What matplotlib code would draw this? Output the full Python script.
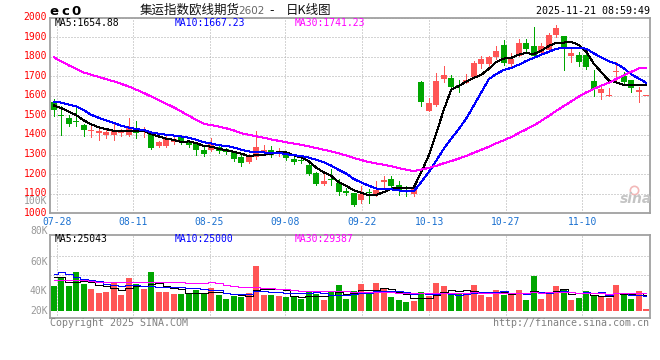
import numpy as np
import matplotlib
matplotlib.use("Agg")
import matplotlib.pyplot as plt
from matplotlib.transforms import ScaledTranslation

# ---------------- data ----------------
tick_dates = ['07-28', '08-11', '08-25', '09-08', '09-22', '10-13', '10-27', '11-10']

opens = [1567, 1503, 1486, 1471, 1452, 1418, 1411, 1399, 1402, 1408,
         1402, 1430, 1416, 1409, 1345, 1346, 1365, 1392, 1367, 1355,
         1325, 1321, 1341, 1330, 1313, 1290, 1264, 1285, 1314, 1324,
         1306, 1308, 1277, 1270, 1247, 1208, 1149, 1176, 1154, 1112,
         1104, 1066, 1107, 1095, 1160, 1176, 1142, 1117, 1100, 1673,
         1525, 1554, 1687, 1690, 1655, 1668, 1698, 1764, 1762, 1796,
         1860, 1764, 1804, 1872, 1852, 1818, 1835, 1911, 1903, 1804,
         1806, 1809, 1676, 1614, 1597, 1720, 1702, 1681, 1622, 1600]
highs = [1583, 1547, 1501, 1554, 1457, 1460, 1435, 1430, 1463, 1430,
         1487, 1472, 1441, 1414, 1371, 1401, 1391, 1402, 1376, 1362,
         1345, 1386, 1349, 1335, 1320, 1298, 1303, 1421, 1348, 1345,
         1333, 1316, 1290, 1283, 1259, 1213, 1200, 1224, 1176, 1131,
         1105, 1137, 1122, 1163, 1188, 1188, 1163, 1137, 1132, 1675,
         1588, 1716, 1750, 1708, 1681, 1711, 1779, 1801, 1801, 1855,
         1886, 1818, 1889, 1889, 1954, 1872, 1921, 1963, 1903, 1838,
         1823, 1844, 1730, 1656, 1642, 1775, 1720, 1681, 1647, 1600]
lows = [1497, 1401, 1447, 1447, 1397, 1392, 1372, 1387, 1375, 1397,
        1396, 1384, 1390, 1328, 1340, 1341, 1356, 1352, 1340, 1300,
        1293, 1316, 1307, 1305, 1268, 1244, 1259, 1279, 1296, 1286,
        1293, 1273, 1251, 1255, 1195, 1145, 1143, 1143, 1095, 1095,
        1039, 1054, 1054, 1088, 1134, 1127, 1095, 1088, 1086, 1549,
        1520, 1549, 1673, 1631, 1617, 1665, 1695, 1742, 1750, 1788,
        1759, 1742, 1801, 1826, 1801, 1809, 1831, 1899, 1730, 1775,
        1750, 1738, 1597, 1585, 1597, 1665, 1656, 1622, 1568, 1600]
closes = [1526, 1499, 1457, 1468, 1423, 1426, 1421, 1413, 1421, 1421,
          1435, 1410, 1421, 1333, 1364, 1377, 1379, 1367, 1350, 1321,
          1303, 1359, 1316, 1313, 1278, 1259, 1294, 1341, 1324, 1298,
          1314, 1282, 1264, 1267, 1200, 1152, 1163, 1170, 1109, 1104,
          1044, 1100, 1104, 1120, 1171, 1137, 1112, 1112, 1124, 1566,
          1563, 1678, 1708, 1647, 1651, 1681, 1770, 1789, 1796, 1830,
          1767, 1789, 1869, 1840, 1801, 1852, 1911, 1948, 1847, 1818,
          1775, 1745, 1634, 1634, 1605, 1728, 1673, 1639, 1631, 1600]
# volume in thousands
volumes = [40.5, 54, 40.5, 63, 44, 35.6, 29, 31, 47, 26,
           53.5, 44, 35.6, 63, 31, 31, 27.5, 28, 27.5, 34,
           27.5, 37, 26, 19.5, 25, 23, 29, 73.4, 26, 26,
           24.3, 22.7, 22.7, 19.5, 32.4, 27.5, 17.8, 32.4, 42, 19.5,
           32.4, 44, 29, 45.4, 37, 22.7, 17.8, 14.6, 16.2, 30.8,
           24.3, 45.4, 40.5, 26, 29, 26, 42, 26, 22.7, 34,
           26, 26, 34, 17.8, 57.2, 19.5, 29, 40.5, 34, 17.8,
           21, 32.4, 26, 22.7, 21, 42, 29, 19.5, 32.4, 3.2]
# history before the visible window (inferred from the moving-average lines)
prior_closes = [2118, 2076, 2012, 1966, 1773, 1768, 1745, 1753, 1813, 1827,
                1907, 1918, 1890, 1922, 1920, 1922, 2015, 1998, 1939, 1922,
                1547, 1557, 1567, 1607, 1667, 1570, 1543, 1559, 1557]
prior_volumes = [64.5, 51, 73.5, 54.5, 76, 69.5, 33, 49, 28, 55.5,
                 46, 37.6, 65, 33, 33, 29.5, 30, 29.5, 36, 29.5,
                 24, 80.5, 113, 71, 45.6, 50, 82, 60, 40]

price_ma_text = ['MA5:1654.88', 'MA10:1667.23', 'MA30:1741.23']
vol_ma_text = ['MA5:25043', 'MA10:25000', 'MA30:29387']
vol_axis_labels = ['100K', '80K', '60K', '40K', '20K']

# ---------------- layout / style ----------------
W, H = 660, 360
MAIN_BOX = (50, 17.5, 650, 213.3)   # left, top, right, bottom in px
VOL_BOX = (50, 234.7, 650, 318.3)
TICK_PX = [56.7, 133.3, 209.5, 285, 361.7, 429.3, 505.5, 582.3]
VOL_LABEL_PX = [201.5, 230.7, 261.7, 290.7, 310.7]
VOL_GRID_PX = [255.7, 275.0]
VOL_BASE_PX = 311.0
K_PER_PX = 1.62
LW = 0.72  # one pixel

UP = '#FF5555'
DOWN = '#00A600'
GRID = '#ABABAB'
FRAME = '#A0A0A0'
MONO = 'DejaVu Sans Mono'
CJK = ['Noto Sans CJK SC', 'DejaVu Sans']

fig = plt.figure(figsize=(W / 100, H / 100), dpi=100)
fig.patch.set_facecolor('white')


def add_ax(box):
    l, t, r, b = box
    return fig.add_axes([l / W, 1 - b / H, (r - l) / W, (b - t) / H])


def ptext(px, py, s, **kw):
    kw.setdefault('va', 'center')
    fig.text(px / W, 1 - py / H, s, **kw)


def sma(series, prior, n):
    full = np.concatenate([np.asarray(prior, float), np.asarray(series, float)])
    k = len(prior)
    return np.array([full[k + i - n + 1:k + i + 1].mean() for i in range(len(series))])


n = len(closes)
x = np.arange(n)
o = np.array(opens, float)
h = np.array(highs, float)
lo = np.array(lows, float)
c = np.array(closes, float)
up = c >= o
colors = [UP if u else DOWN for u in up]

ax = add_ax(MAIN_BOX)
axv = add_ax(VOL_BOX)
tick_pos = [(p - MAIN_BOX[0]) / 7.5 - 0.5 for p in TICK_PX]

for a in (ax, axv):
    a.set_xlim(-0.5, n - 0.5)
    for s in a.spines.values():
        s.set_color(FRAME)
        s.set_linewidth(1.3)
    a.set_xticks(tick_pos)
    a.tick_params(length=0)
    a.grid(True, color=GRID, linestyle=(0, (1, 2)), linewidth=LW)
    a.set_axisbelow(True)

# ---- main price panel ----
ax.set_ylim(1000, 2000)
ax.set_yticks(np.arange(1000, 2001, 100))
ax.set_yticklabels([str(v) for v in range(1000, 2001, 100)], color='#FF0000',
                   fontsize=7, family=MONO)
ax.set_xticklabels(tick_dates, color='#1A70D0', fontsize=7, family=MONO)
ax.tick_params(axis='y', pad=2.2)
ax.tick_params(axis='x', pad=3)
shift_up = ScaledTranslation(0, 1.5 / 100, fig.dpi_scale_trans)
for lab in ax.get_yticklabels():
    lab.set_transform(lab.get_transform() + shift_up)

ax.vlines(x, lo, h, colors=colors, linewidth=LW, antialiased=False, zorder=3)
body_h = np.maximum(np.abs(c - o), 5.0)
ax.bar(x, body_h, bottom=np.minimum(o, c), width=0.76, color=colors,
       linewidth=0, antialiased=False, zorder=3)

for period, col in ((5, 'black'), (10, '#0000FF'), (30, '#FF00FF')):
    ax.plot(x, sma(c, prior_closes, period), color=col, linewidth=LW,
            antialiased=False, zorder=4)

# ---- volume panel ----
v = np.array(volumes, float)
axv.set_ylim(-(VOL_BOX[3] - VOL_BASE_PX) * K_PER_PX, (VOL_BASE_PX - VOL_BOX[1]) * K_PER_PX)
axv.set_yticks([(VOL_BASE_PX - p) * K_PER_PX for p in VOL_GRID_PX])
axv.set_yticklabels([])
axv.set_xticklabels([])
axv.bar(x, v, width=0.76, color=colors, linewidth=0, antialiased=False, zorder=3)
for period, col in ((5, 'black'), (10, '#0000FF'), (30, '#FF00FF')):
    axv.plot(x, sma(v, prior_volumes, period), color=col, linewidth=LW,
             drawstyle='steps-mid', antialiased=False, zorder=4)

# ---- texts ----
for s, px, col in zip(price_ma_text, (55, 174.5, 295), ('black', '#0000FF', '#FF00FF')):
    ptext(px, 23.5, s, color=col, fontsize=7, family=MONO, ha='left')
for s, px, col in zip(vol_ma_text, (55, 174.5, 295), ('black', '#0000FF', '#FF00FF')):
    ptext(px, 238.5, s, color=col, fontsize=7, family=MONO, ha='left')
for s, py in zip(vol_axis_labels, VOL_LABEL_PX):
    ptext(47.5, py, s, color='#999999', fontsize=7, family=MONO, ha='right')

for ch, px in zip('ec0', (54, 65.2, 76.5)):
    ptext(px, 11.5, ch, color='black', fontsize=9.5, family='DejaVu Sans',
          weight='bold', ha='center')
ptext(140, 10.5, '集运指数欧线期货', color='#111111', fontsize=9, family=CJK, ha='left')
ptext(238.5, 11, '2602', color='#666666', fontsize=7.5, family='DejaVu Sans', ha='left')
ptext(272, 10.5, '-', color='#111111', fontsize=9, family='DejaVu Sans', ha='center')
ptext(286, 10.5, '日K线图', color='#111111', fontsize=9, family=CJK, ha='left')
ptext(649.5, 11.5, '2025-11-21 08:59:49', color='black', fontsize=7.2, family=MONO, ha='right')

ptext(50, 323.5, 'Copyright 2025 SINA.COM', color='#808080', fontsize=7.2, family=MONO, ha='left')
ptext(649.5, 323.5, 'http://finance.sina.com.cn', color='#808080', fontsize=7.2, family=MONO, ha='right')

# sina watermark
ptext(636, 199, 'sina', color='#C4C4C4', fontsize=10, family='DejaVu Sans',
      weight='bold', style='italic', ha='center')
fig.add_artist(plt.Line2D([634 / W], [1 - 190 / H], marker='o', markersize=6,
                          markerfacecolor='none', markeredgecolor='#F2B8B8',
                          markeredgewidth=1.2, transform=fig.transFigure))

fig.savefig('out.png', dpi=100)
